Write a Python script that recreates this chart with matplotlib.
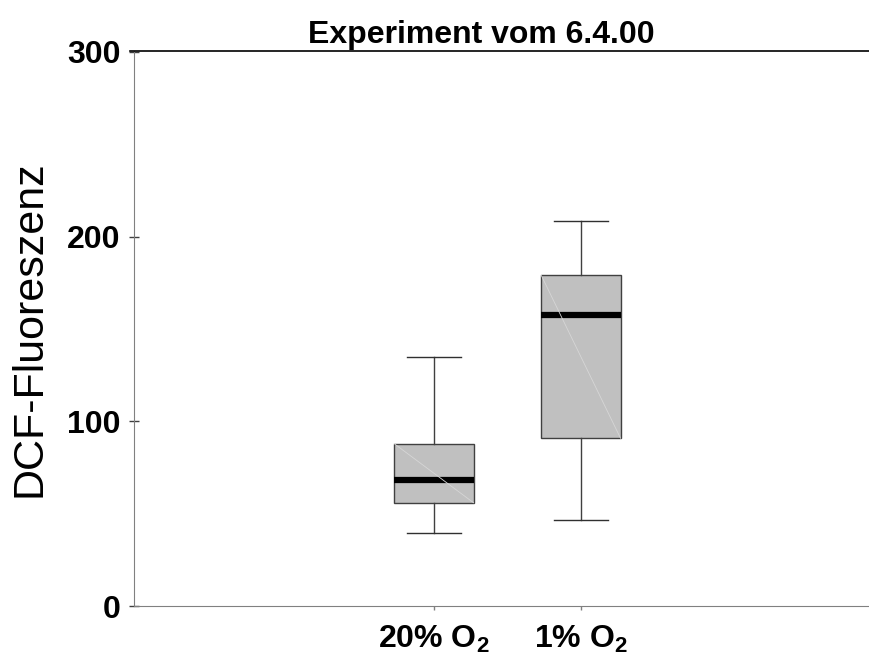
import matplotlib
matplotlib.use("Agg")
import matplotlib.pyplot as plt

plt.rcParams['font.family'] = ['Liberation Sans', 'DejaVu Sans']
plt.rcParams['mathtext.fontset'] = 'custom'
plt.rcParams['mathtext.rm'] = 'Liberation Sans'
plt.rcParams['mathtext.bf'] = 'Liberation Sans:bold'

# Group labels and box statistics (DCF fluorescence)
groups = [r'20% O$_\mathbf{2}$', r'1% O$_\mathbf{2}$']
whisker_low = [39.6, 46.7]
q1 = [55.9, 90.8]
median = [68.4, 157.5]
q3 = [87.9, 179.1]
whisker_high = [134.6, 208.4]
yticks = [0, 100, 200, 300]

stats = []
for i, g in enumerate(groups):
    stats.append(dict(label=g, whislo=whisker_low[i], q1=q1[i], med=median[i],
                      q3=q3[i], whishi=whisker_high[i], fliers=[]))

fig = plt.figure(figsize=(8.69, 6.57), dpi=100)
ax = fig.add_axes([134 / 869, 51 / 657, 1 - 134 / 869, (606 - 51) / 657])

positions = [1, 2]
bp = ax.bxp(stats, positions=positions, widths=0.54, patch_artist=True,
            showfliers=False,
            boxprops=dict(facecolor='#c0c0c0', edgecolor='#404040', linewidth=1.0),
            medianprops=dict(color='black', linewidth=4.5, solid_capstyle='butt'),
            whiskerprops=dict(color='#404040', linewidth=1.0),
            capprops=dict(color='#303030', linewidth=1.0),
            capwidths=0.37)

# faint diagonal inside each box
for i, p in enumerate(positions):
    ax.plot([p - 0.27, p + 0.27], [q3[i], q1[i]], color='#d6d6d6', lw=0.6, zorder=3)

ax.set_xlim(-1.04, 3.96)
ax.set_ylim(0, 300.5)
ax.set_yticks(yticks)
ax.set_yticklabels([str(t) for t in yticks], fontsize=23, fontweight='bold')
ax.set_xticks(positions)
ax.set_xticklabels(groups, fontsize=23, fontweight='bold')
ax.tick_params(axis='y', direction='inout', length=7, width=1, color='#404040', pad=6)
ax.tick_params(axis='x', direction='out', length=3, width=1, color='#808080', pad=10)

ax.spines['right'].set_visible(False)
ax.spines['top'].set_color('black')
ax.spines['top'].set_linewidth(1.2)
ax.spines['left'].set_color('#808080')
ax.spines['bottom'].set_color('#808080')
ax.spines['top'].set_bounds(-1.07, 3.96)

ax.set_ylabel('DCF-Fluoreszenz', fontsize=31, labelpad=13)
ax.set_title('Experiment vom 6.4.00', fontsize=23, fontweight='bold', pad=6,
             x=0.473)

fig.savefig('out.png', dpi=100)
